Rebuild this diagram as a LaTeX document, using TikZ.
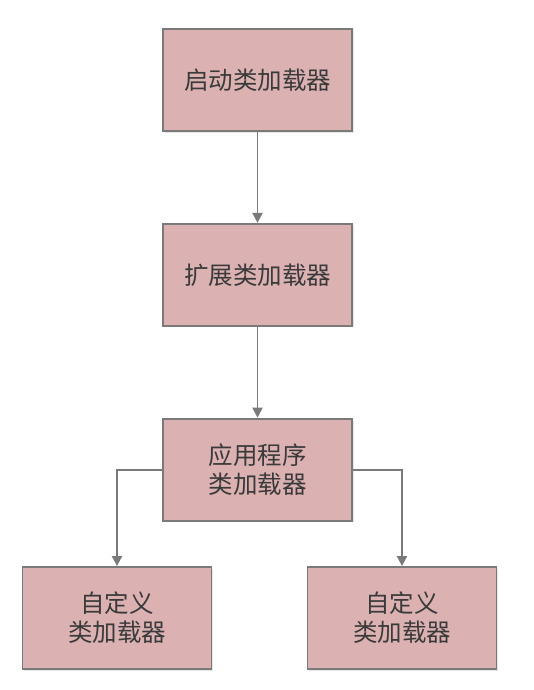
\documentclass[tikz,border=0pt]{standalone}
\usepackage{fontspec}
\newfontfamily\cjk{Noto Sans CJK SC}
\usepackage{xcolor}
\usetikzlibrary{arrows.meta,positioning,shadows}

\definecolor{boxfill}{HTML}{DBB1B2}
\definecolor{boxline}{HTML}{7A7A7A}
\definecolor{txtgray}{HTML}{3A3A3A}

\begin{document}
\begin{tikzpicture}[
    x=1pt, y=-1pt,
    node distance=91pt and 1cm,
    >={Triangle[width=10pt,length=10pt]},
    every node/.style={font=\cjk\fontsize{24.5}{29}\selectfont, text=txtgray},
    box/.style={draw=boxline, line width=1.8pt, fill=boxfill,
                minimum width=189pt, minimum height=102pt, align=center,
                drop shadow={opacity=0.2, shadow xshift=1.5pt, shadow yshift=-1.5pt}},
    link/.style={->, draw=boxline, line width=1.8pt},
]
\useasboundingbox (0,0) rectangle (534,690);

% --- chain of loaders ---
\node[box] (boot) at (257.5,80) {启动类加载器};
\node[box, below=91pt of boot] (ext) {扩展类加载器};
\node[box, below=91pt of ext] (app) {应用程序\\类加载器};

% --- custom loaders ---
\node[box] (custleft) at (117,618) {自定义\\类加载器};
\node[box] (custright) at (402,618) {自定义\\类加载器};

% --- arrows ---
\draw[link] (boot) -- (ext);
\draw[link] (ext) -- (app);
\draw[link] (app.west) -| (custleft.north);
\draw[link] (app.east) -| (custright.north);

\end{tikzpicture}
\end{document}
